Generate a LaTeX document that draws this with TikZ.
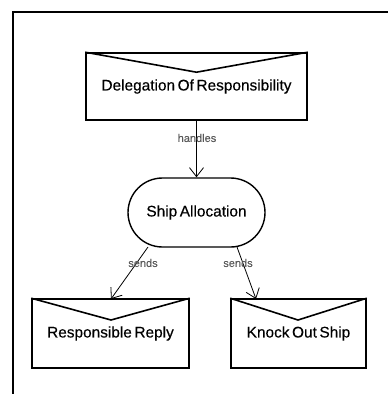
\documentclass[tikz,border=0pt]{standalone}
\usepackage{fontspec}
\setmainfont{Liberation Sans}[FakeBold=0.3,WordSpace=0.6]
\usetikzlibrary{arrows.meta,shapes.misc}
\begin{document}
\begin{tikzpicture}[x=1pt,y=-1pt,
  msgbox/.style={draw,line width=1.6pt,minimum width=#1,minimum height=67pt,inner sep=0pt,
    font=\fontsize{15.4}{17}\selectfont},
  msgbox/.default=221pt,
  procbox/.style={draw,line width=1.4pt,rounded rectangle,minimum width=137pt,minimum height=69pt,
    inner sep=0pt,font=\fontsize{15.4}{17}\selectfont},
  link/.style={line width=0.8pt,-{Straight Barb[length=9pt,width=14pt,line width=0.8pt]}},
  linklabel/.style={text=black!65,font=\fontsize{11}{12}\selectfont,inner sep=0pt}]
  \useasboundingbox (0,0) rectangle (388,394);
  % outer frame: top and left edges
  \draw[line width=2.2pt] (13,394) -- (13,12) -- (388,12);
  % nodes
  \node[msgbox=221pt] (del) at (196.5,86.5) {Delegation Of Responsibility};
  \node[procbox] (ship) at (196.5,212.5) {Ship Allocation};
  \node[msgbox=157pt,minimum height=69pt] (reply) at (110.5,333.5) {Responsible Reply};
  \node[msgbox=135pt,minimum height=69pt] (ko) at (298.5,333.5) {Knock Out Ship};
  % envelope flaps
  \draw[line width=1.6pt] (del.north west) -- ([yshift=-20pt]del.north) -- (del.north east);
  \draw[line width=1.6pt] (reply.north west) -- (111,320) -- (reply.north east);
  \draw[line width=1.6pt] (ko.north west) -- (298,320) -- (ko.north east);
  % connectors
  \draw[link] (del.south) -- (ship.north);
  \node[linklabel] (lh) at (197,138) {handles};
  \coordinate (ra) at (148,247);
  \coordinate (rb) at (111,299);
  \coordinate (ka) at (237,247);
  \coordinate (kb) at (256,299);
  \draw[link] (ra) -- (rb);
  \draw[link] (ka) -- (kb);
  \node[linklabel] (ls1) at (143,263) {sends};
  \node[linklabel] (ls2) at (238,263) {sends};
\end{tikzpicture}
\end{document}
